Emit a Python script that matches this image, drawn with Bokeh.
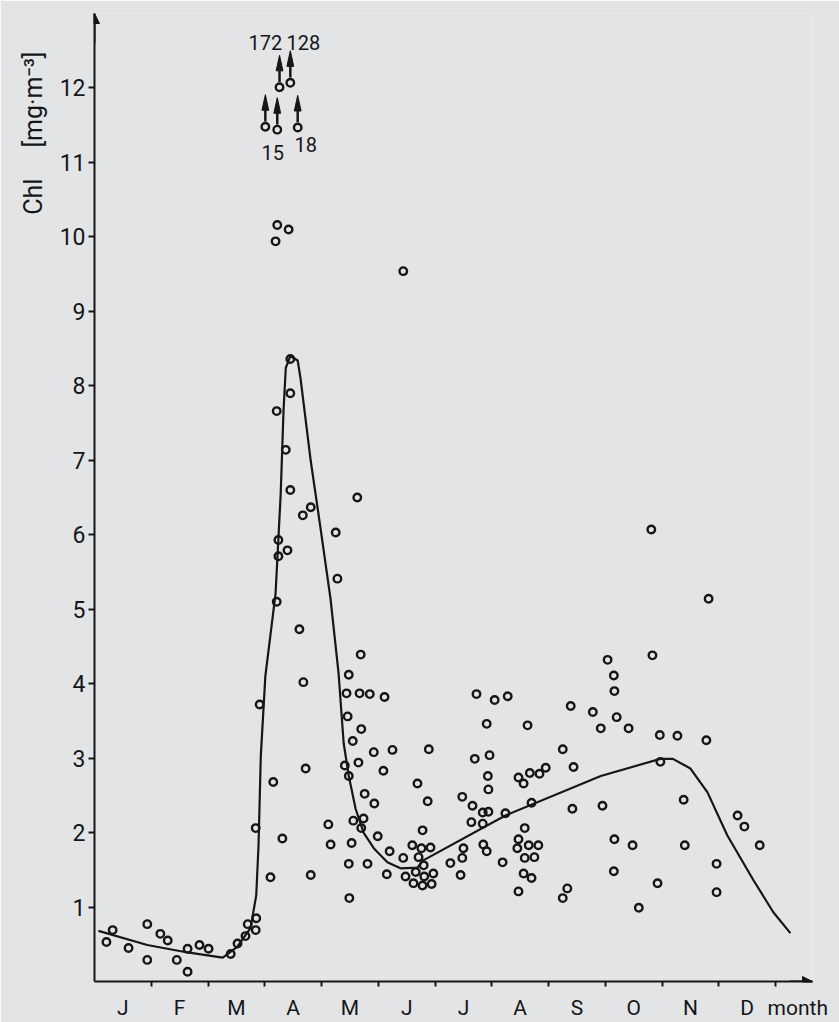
import math
from bokeh.plotting import figure
from bokeh.models import Range1d, FixedTicker, LabelSet, ColumnDataSource, Arrow, NormalHead, Title
from bokeh.core.properties import value
from bokeh.embed import file_html
from bokeh.resources import INLINE

# ---------------- data ----------------
month_labels = ["J", "F", "M", "A", "M", "J", "J", "A", "S", "O", "N", "D"]
month_unit = "month"
y_ticks = [1, 2, 3, 4, 5, 6, 7, 8, 9, 10, 11, 12]
y_title = "Chl\u00a0\u00a0\u00a0\u00a0\u00a0[mg·m⁻³]"

obs_month = [
    0.21, 0.32, 0.60, 0.93, 0.93, 1.16, 1.29, 1.45, 1.64, 1.64, 1.85, 2.01, 2.40, 2.52, 2.66, 2.70,
    2.84, 2.85, 3.10, 3.81, 4.48, 4.49, 4.81, 5.15, 2.84, 2.91, 3.45, 3.45, 3.21, 3.37, 3.45, 3.81,
    3.67, 4.63, 4.25, 3.24, 3.40, 3.24, 4.28, 3.21, 3.61, 4.69, 4.48, 3.68, 4.44, 4.67, 4.85, 5.11,
    4.46, 4.70, 4.55, 4.92, 5.25, 3.72, 3.15, 4.41, 4.65, 4.48, 5.09, 4.76, 4.93, 4.56, 4.74, 4.70,
    4.12, 3.31, 4.16, 4.53, 4.99, 5.20, 5.44, 3.22, 3.42, 3.19,
    6.73, 7.05, 6.91, 5.89, 6.70, 6.96, 5.69, 6.93, 6.94, 5.87, 6.48, 6.66, 6.84, 6.94, 6.64, 6.84,
    5.78, 5.60, 5.76, 5.92, 5.44, 5.71, 5.80, 6.50, 6.85, 6.91, 6.48, 6.27, 6.45, 5.48, 5.66, 5.81,
    5.97, 5.62, 5.78, 5.94, 7.28, 8.39, 8.78, 7.63, 8.25, 8.44, 7.47, 7.67, 7.84, 7.95, 7.56, 7.24,
    7.70, 8.42, 7.58, 7.47, 7.45, 7.65, 7.82, 7.58, 7.75, 7.19, 7.56, 7.70, 7.47, 8.33, 8.25, 8.95,
    9.16, 9.48, 9.15, 9.92, 9.59, 9.81, 10.82, 9.04, 9.83, 9.15, 9.16, 9.20, 8.92, 9.41, 9.96, 10.27,
    10.78, 9.97, 10.38, 11.33, 11.45, 11.72, 10.40, 10.96, 10.96,
]
obs_chl = [
    0.53, 0.69, 0.45, 0.77, 0.29, 0.64, 0.55, 0.29, 0.44, 0.13, 0.49, 0.44, 0.37, 0.51, 0.61, 0.77,
    0.69, 0.85, 1.40, 1.43, 1.58, 1.12, 1.58, 1.44, 2.06, 3.72, 8.36, 7.90, 7.66, 7.14, 6.60, 6.37,
    6.26, 6.50, 6.03, 5.93, 5.79, 5.71, 5.41, 5.10, 4.73, 4.39, 4.12, 4.02, 3.87, 3.87, 3.86, 3.82,
    3.56, 3.39, 3.23, 3.08, 3.11, 2.86, 2.68, 2.90, 2.94, 2.76, 2.83, 2.52, 2.39, 2.16, 2.19, 2.06,
    2.11, 1.92, 1.84, 1.86, 1.95, 1.75, 9.54, 10.16, 10.10, 9.94,
    3.86, 3.78, 3.46, 3.12, 2.99, 3.04, 2.66, 2.76, 2.58, 2.42, 2.48, 2.36, 2.27, 2.28, 2.14, 2.12,
    2.03, 1.83, 1.79, 1.80, 1.66, 1.67, 1.56, 1.79, 1.84, 1.75, 1.66, 1.59, 1.43, 1.41, 1.47, 1.41,
    1.45, 1.32, 1.29, 1.31, 3.83, 3.70, 3.62, 3.44, 3.12, 2.88, 2.74, 2.80, 2.79, 2.87, 2.66, 2.26,
    2.40, 2.32, 2.06, 1.91, 1.79, 1.83, 1.83, 1.66, 1.67, 1.60, 1.45, 1.39, 1.21, 1.25, 1.12, 2.36,
    1.91, 1.83, 1.48, 1.32, 0.99, 6.07, 5.14, 4.32, 4.38, 4.11, 3.90, 3.55, 3.40, 3.40, 3.31, 3.30,
    3.24, 2.95, 2.44, 2.23, 2.08, 1.83, 1.83, 1.58, 1.20,
]

curve_month = [0.07, 0.93, 1.64, 2.26, 2.52, 2.75, 2.85, 2.89, 2.93, 3.01, 3.19, 3.28, 3.33, 3.37,
               3.45, 3.58, 3.63, 3.81, 3.98, 4.16, 4.30, 4.39, 4.48, 4.60, 4.74, 4.92, 5.16, 5.39,
               5.69, 5.80, 7.24, 8.92, 9.97, 10.19, 10.50, 10.80, 11.15, 11.61, 11.96, 12.26]
curve_chl = [0.68, 0.49, 0.39, 0.32, 0.47, 0.72, 1.16, 1.83, 3.03, 4.10, 5.21, 6.54, 7.66, 8.24,
             8.40, 8.34, 8.10, 6.99, 6.10, 5.13, 4.14, 3.20, 2.76, 2.32, 2.00, 1.79, 1.60, 1.52,
             1.53, 1.63, 2.23, 2.76, 2.99, 2.99, 2.86, 2.54, 1.96, 1.36, 0.93, 0.65]

# off-scale values, plotted at the top with arrows
off_month = [3.01, 3.22, 3.26, 3.45, 3.58]
off_plot_chl = [11.48, 11.44, 12.01, 12.07, 11.47]
off_label_text = ["172", "128", "15", "18"]
off_label_month = [3.01, 3.68, 3.14, 3.72]
off_label_chl = [12.61, 12.61, 11.13, 11.24]

# ---------------- figure ----------------
INK = "#161618"
BG = "#e3e4e6"
FONT = "Roboto"
X_END = 12.65
Y_END = 13.0

p = figure(width=839, height=1022, output_backend="svg", toolbar_location=None,
           x_range=Range1d(0, X_END), y_range=Range1d(0, Y_END),
           min_border_left=94, min_border_right=27, min_border_top=13, min_border_bottom=35)
p.background_fill_color = BG
p.border_fill_color = BG
p.outline_line_color = None
p.xgrid.visible = False
p.ygrid.visible = False

# y axis
p.yaxis.ticker = FixedTicker(ticks=y_ticks)
p.yaxis.axis_line_width = 2
p.yaxis.axis_line_color = INK
p.yaxis.major_tick_in = 0
p.yaxis.major_tick_out = 6
p.yaxis.major_tick_line_width = 2
p.yaxis.major_tick_line_color = INK
p.yaxis.minor_tick_line_color = None
p.yaxis.major_label_text_font = FONT
p.yaxis.major_label_text_font_size = "23px"
p.yaxis.major_label_text_color = INK
p.yaxis.major_label_standoff = 3

# x axis: labels at mid-month, small ticks at the month boundaries
label_pos = [i + 0.5 for i in range(len(month_labels))] + [12.39]
p.xaxis.ticker = FixedTicker(ticks=label_pos, minor_ticks=[i + 1 for i in range(len(month_labels))])
p.xaxis.major_label_overrides = {pos: lab for pos, lab in zip(label_pos, month_labels + [month_unit])}
p.xaxis.axis_line_width = 2
p.xaxis.axis_line_color = INK
p.xaxis.major_tick_in = 0
p.xaxis.major_tick_out = 0
p.xaxis.major_tick_line_color = None
p.xaxis.minor_tick_in = 0
p.xaxis.minor_tick_out = 5
p.xaxis.minor_tick_line_width = 2
p.xaxis.minor_tick_line_color = INK
p.xaxis.major_label_text_font = FONT
p.xaxis.major_label_text_font_size = "21px"
p.xaxis.major_label_text_color = INK
p.xaxis.major_label_standoff = 9

# y title at the upper end of the axis
p.add_layout(Title(text=y_title, align="right", offset=38, standoff=17, text_font=FONT,
                   text_font_size="25px", text_font_style="normal", text_color=INK), "left")

# axis arrows
p.add_layout(Arrow(end=NormalHead(size=10, fill_color=INK, line_color=INK, line_width=1),
                   x_start=0, y_start=Y_END - 0.4, x_end=0, y_end=Y_END,
                   line_color=INK, line_width=2))
p.add_layout(Arrow(end=NormalHead(size=10, fill_color=INK, line_color=INK, line_width=1),
                   x_start=X_END - 0.4, y_start=0, x_end=X_END, y_end=0,
                   line_color=INK, line_width=2))

# fitted curve
p.line(curve_month, curve_chl, line_color=INK, line_width=2.2)

# observations
p.scatter(obs_month + off_month, obs_chl + off_plot_chl, marker="circle", size=7.5,
          fill_alpha=0, line_color=INK, line_width=2.4)

# arrows for off-scale values
L = 0.43
H = 0.21
W = 0.06
p.segment(x0=off_month, y0=[v + 0.07 for v in off_plot_chl],
          x1=off_month, y1=[v + L - H for v in off_plot_chl],
          line_color=INK, line_width=2.5)
p.patches(xs=[[m - W, m, m + W] for m in off_month],
          ys=[[v + L - H, v + L, v + L - H] for v in off_plot_chl],
          fill_color=INK, line_color=INK, line_width=1)

off_src = ColumnDataSource(dict(x=off_label_month, y=off_label_chl, t=off_label_text))
p.add_layout(LabelSet(x="x", y="y", text="t", source=off_src, text_align="center",
                      text_baseline="middle", text_font=value(FONT), text_font_size="20px",
                      text_color=INK))

open("out.html", "w").write(file_html(p, INLINE))
